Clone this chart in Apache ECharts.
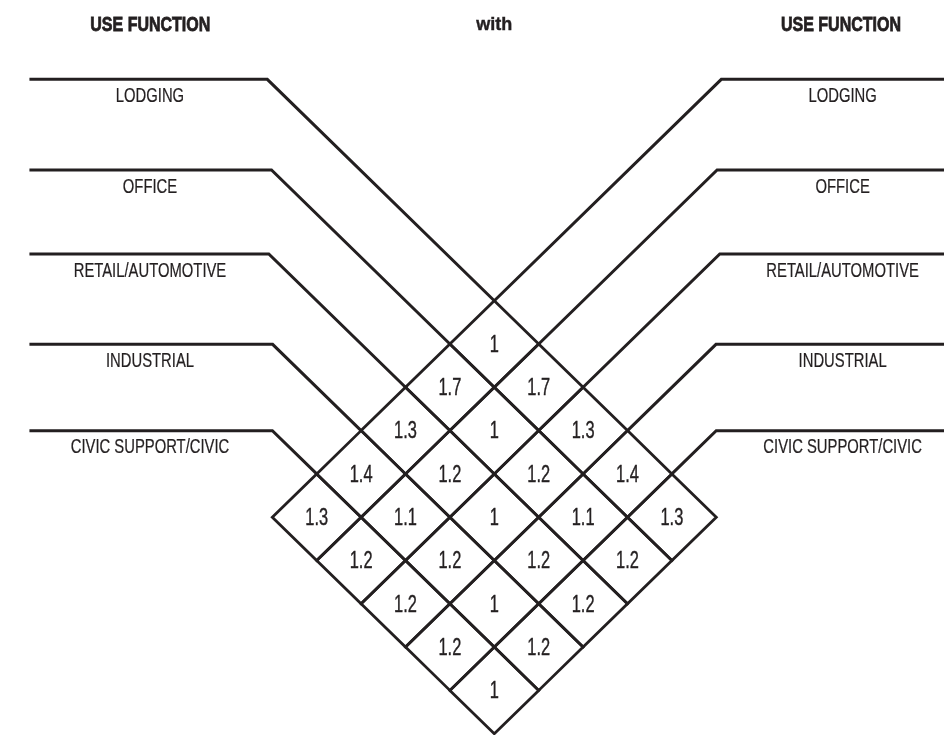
<!DOCTYPE html>
<html><head><meta charset="utf-8">
<script src="https://cdn.jsdelivr.net/npm/echarts@6/dist/echarts.min.js"></script>
<style>html,body{margin:0;padding:0;background:#fff}#c{width:944px;height:735px}</style>
</head><body><div id="c"></div>
<script>
// ---------- data ----------
const headerLeft = 'USE FUNCTION';
const headerMid = 'with';
const headerRight = 'USE FUNCTION';
const leftCategories = ['LODGING', 'OFFICE', 'RETAIL/AUTOMOTIVE', 'INDUSTRIAL', 'CIVIC SUPPORT/CIVIC'];
const rightCategories = ['LODGING', 'OFFICE', 'RETAIL/AUTOMOTIVE', 'INDUSTRIAL', 'CIVIC SUPPORT/CIVIC'];
// rows: left category, columns: right category
const lodgingRow    = [1,   1.7, 1.3, 1.4, 1.3];
const officeRow     = [1.7, 1,   1.2, 1.1, 1.2];
const retailRow     = [1.3, 1.2, 1,   1.2, 1.2];
const industrialRow = [1.4, 1.1, 1.2, 1,   1.2];
const civicRow      = [1.3, 1.2, 1.2, 1.2, 1];
const matrixValues = [lodgingRow, officeRow, retailRow, industrialRow, civicRow];

// ---------- layout / style ----------
const INK = '#231f20';
const leaderLevels = [-5.113, -3.018, -1.079, 1.007, 3.002]; // horizontal leader heights, in row units
const leaderEnd = 10.47;
const labelCenterU = { '-1': -7.755, '1': 7.845 };
const labelDropPx = 17;
const FONT = '"Liberation Sans", Arial, sans-serif';

// cells in rotated (u = j - i, v = i + j + 1) coordinates
const cellData = [];
matrixValues.forEach((row, i) => row.forEach((val, j) => {
  cellData.push([j - i, i + j + 1, val]);
}));
const leaderData = [];
leftCategories.forEach((name, i) => leaderData.push({ value: [i, -1], name }));
rightCategories.forEach((name, i) => leaderData.push({ value: [i, 1], name }));

function renderCell(params, api) {
  const c = api.coord([api.value(0), api.value(1)]);
  const s = api.size([1, 1]);
  return {
    type: 'group',
    children: [
      {
        type: 'polygon',
        shape: { points: [[c[0], c[1] - s[1]], [c[0] + s[0], c[1]], [c[0], c[1] + s[1]], [c[0] - s[0], c[1]]] },
        style: { fill: 'none', stroke: INK, lineWidth: 2.8, lineJoin: 'miter' }
      },
      {
        type: 'text', x: c[0], y: c[1] + 1, scaleX: 0.82, scaleY: 1.22,
        style: { text: String(api.value(2)), font: '20px ' + FONT, fill: INK, stroke: INK, lineWidth: 0.35, align: 'center', verticalAlign: 'middle' }
      }
    ]
  };
}

function renderLeader(params, api) {
  const i = api.value(0);
  const side = api.value(1);
  const lvl = leaderLevels[i];
  const vtx = api.coord([side * i, i]);
  const turn = api.coord([side * (2 * i - lvl), lvl]);
  const end = api.coord([side * leaderEnd, lvl]);
  const lab = api.coord([labelCenterU[String(side)], lvl]);
  const name = leaderData[params.dataIndex].name;
  return {
    type: 'group',
    children: [
      {
        type: 'polyline',
        shape: { points: [end, turn, vtx] },
        style: { fill: 'none', stroke: INK, lineWidth: 3, lineJoin: 'miter', lineCap: 'butt' }
      },
      {
        type: 'text', x: lab[0], y: lab[1] + labelDropPx, scaleX: 0.823, scaleY: 1.15,
        style: { text: name, font: '18px ' + FONT, fill: INK, stroke: INK, lineWidth: 0.2, align: 'center', verticalAlign: 'middle' }
      }
    ]
  };
}

const chart = echarts.init(document.getElementById('c'));
chart.setOption({
  animation: false,
  backgroundColor: '#fff',
  grid: { left: 5.9, right: 5.7, top: 40.9, bottom: 1.3, containLabel: false },
  xAxis: { type: 'value', min: -11, max: 10, show: false },
  yAxis: { type: 'value', min: -6, max: 10, inverse: true, show: false },
  graphic: [
    { type: 'text', x: 150.3, y: 25.5, scaleX: 0.8, style: { text: headerLeft, font: 'bold 20px ' + FONT, fill: INK, stroke: INK, lineWidth: 0.8, align: 'center', verticalAlign: 'middle' } },
    { type: 'text', x: 494.3, y: 25.3, style: { text: headerMid, font: 'bold 18px ' + FONT, fill: INK, stroke: INK, lineWidth: 0.4, align: 'center', verticalAlign: 'middle' } },
    { type: 'text', x: 841, y: 25, scaleX: 0.8, style: { text: headerRight, font: 'bold 20px ' + FONT, fill: INK, stroke: INK, lineWidth: 0.8, align: 'center', verticalAlign: 'middle' } }
  ],
  series: [
    { type: 'custom', name: 'leaders', renderItem: renderLeader, data: leaderData, clip: false, silent: true },
    { type: 'custom', name: 'cells', renderItem: renderCell, data: cellData, clip: false, silent: true }
  ]
});
</script>
</body></html>
